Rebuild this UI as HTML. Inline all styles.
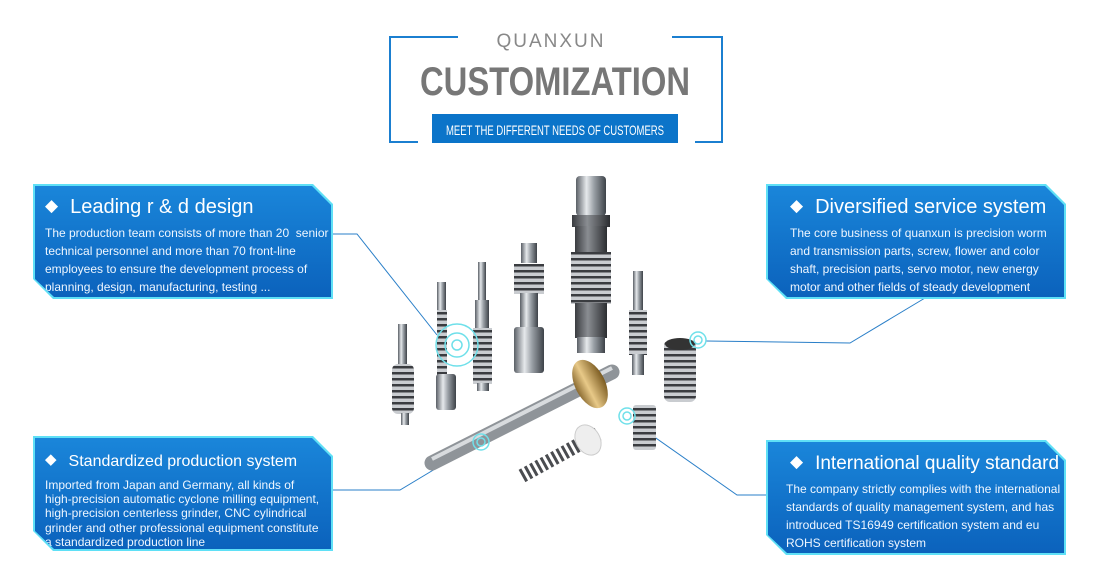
<!DOCTYPE html>
<html><head><meta charset="utf-8"><style>
body{margin:0;width:1100px;height:567px;background:#fff;position:relative;overflow:hidden;font-family:"Liberation Sans",sans-serif}
.box{position:absolute;width:300px;height:115px;background:#5fe0f6;clip-path:polygon(0 0,280px 0,300px 20px,300px 100%,20px 100%,0 95px)}
.box .in{position:absolute;left:2px;top:2px;right:2px;bottom:2px;background:linear-gradient(180deg,#1a86da,#0b62bc);clip-path:polygon(0 0,277px 0,296px 19px,296px 100%,19px 100%,0 93px);color:#fff}
.box h3{margin:0;font-weight:normal;font-size:20px;position:absolute;left:10px;top:10px;white-space:nowrap}
.box h3 span{font-size:17px;margin-right:12px;position:relative;top:-2px}
.box p{margin:0;position:absolute;left:10px;top:38px;font-size:12px;line-height:18px;white-space:nowrap;color:#eef6ff}
</style></head><body>
<svg width="1100" height="567" style="position:absolute;left:0;top:0">
<defs>
<linearGradient id="m" x1="0" x2="1"><stop offset="0" stop-color="#5a5f66"/><stop offset=".35" stop-color="#e6e9ec"/><stop offset=".6" stop-color="#9aa0a6"/><stop offset="1" stop-color="#3d4248"/></linearGradient>
<linearGradient id="d" x1="0" x2="1"><stop offset="0" stop-color="#3a3c40"/><stop offset=".4" stop-color="#8a8d92"/><stop offset="1" stop-color="#2c2e31"/></linearGradient>
<linearGradient id="g" x1="0" x2="1"><stop offset="0" stop-color="#8a6a30"/><stop offset=".4" stop-color="#e8c988"/><stop offset="1" stop-color="#7a5a20"/></linearGradient>
<pattern id="th" width="6" height="6" patternUnits="userSpaceOnUse"><rect width="6" height="6" fill="#c9ccd0"/><rect width="6" height="2.5" fill="#3a3c40"/></pattern>
</defs>
<g fill="none" stroke="#1b7fd0" stroke-width="2">
<polyline points="458,37 390,37 390,142 418,142"/>
<polyline points="672,37 722,37 722,142 695,142"/>
</g>
<rect x="432" y="114" width="246" height="29" fill="#0b74c9"/>
<text x="551" y="47" font-size="19" fill="#888" text-anchor="middle" letter-spacing="2" font-family="Liberation Sans">QUANXUN</text>
<text x="555" y="95" font-size="40" font-weight="bold" fill="#777" text-anchor="middle" font-family="Liberation Sans" textLength="270" lengthAdjust="spacingAndGlyphs">CUSTOMIZATION</text>
<text x="555" y="135" font-size="14" fill="#fff" text-anchor="middle" font-family="Liberation Sans" textLength="218" lengthAdjust="spacingAndGlyphs">MEET THE DIFFERENT NEEDS OF CUSTOMERS</text>
<g fill="none" stroke="#2a7fc8" stroke-width="1">
<polyline points="332,234 357,234 437,335"/>
<polyline points="706,341 850,343 925,298"/>
<polyline points="332,490 400,490 475,445"/>
<polyline points="633,422 737,495 766,495"/>
</g>
<rect x="576" y="176" width="30" height="40" rx="4" fill="url(#m)"/>
<rect x="572" y="215" width="38" height="12" fill="url(#d)"/>
<rect x="575" y="226" width="32" height="28" fill="url(#d)"/>
<rect x="571" y="252" width="40" height="52" fill="url(#th)"/>
<rect x="575" y="303" width="32" height="35" fill="url(#d)"/>
<rect x="577" y="337" width="28" height="16" fill="url(#m)"/>
<rect x="521" y="243" width="16" height="20" fill="url(#m)"/>
<rect x="514" y="264" width="30" height="30" fill="url(#th)"/>
<rect x="520" y="293" width="18" height="35" fill="url(#m)"/>
<rect x="514" y="327" width="30" height="46" rx="3" fill="url(#m)"/>
<rect x="478" y="262" width="8" height="40" fill="url(#m)"/>
<rect x="475" y="300" width="14" height="30" fill="url(#m)"/>
<rect x="473" y="328" width="19" height="56" fill="url(#th)"/>
<rect x="477" y="383" width="12" height="8" fill="url(#m)"/>
<rect x="437" y="282" width="9" height="30" fill="url(#m)"/>
<rect x="437" y="310" width="10" height="65" fill="url(#th)"/>
<rect x="436" y="374" width="20" height="36" rx="3" fill="url(#m)"/>
<rect x="398" y="324" width="9" height="40" fill="url(#m)"/>
<rect x="392" y="364" width="22" height="50" rx="6" fill="url(#th)"/>
<rect x="401" y="413" width="8" height="12" fill="url(#m)"/>
<rect x="633" y="271" width="10" height="40" fill="url(#m)"/>
<rect x="629" y="310" width="18" height="45" fill="url(#th)"/>
<rect x="632" y="354" width="12" height="21" fill="url(#m)"/>
<rect x="664" y="340" width="32" height="62" rx="6" fill="url(#th)"/>
<ellipse cx="680" cy="344" rx="15" ry="6" fill="#333"/>
<rect x="633" y="405" width="23" height="45" rx="3" fill="url(#th)"/>
<line x1="432" y1="463" x2="612" y2="372" stroke="#8f9499" stroke-width="15" stroke-linecap="round"/>
<line x1="432" y1="459" x2="612" y2="368" stroke="#d8dbde" stroke-width="4"/>
<ellipse cx="590" cy="384" rx="15" ry="26" transform="rotate(-27 590 384)" fill="url(#g)"/>
<line x1="522" y1="476" x2="598" y2="434" stroke="#4a4c50" stroke-width="14" stroke-dasharray="3 3"/>
<ellipse cx="588" cy="440" rx="12" ry="16" transform="rotate(-30 588 440)" fill="#eee" stroke="#ccc"/>
<g fill="none" stroke="#6fe0ea" stroke-width="1.5">
<circle cx="457" cy="345" r="21"/><circle cx="457" cy="345" r="12"/><circle cx="457" cy="345" r="5"/>
<circle cx="698" cy="340" r="8"/><circle cx="698" cy="340" r="4"/>
<circle cx="627" cy="416" r="8"/><circle cx="627" cy="416" r="4"/>
<circle cx="481" cy="442" r="8"/><circle cx="481" cy="442" r="4"/>
</g>
</svg>
<div class="box" style="left:33px;top:184px"><div class="in"><h3><span>◆</span>Leading r &amp; d design</h3><p>The production team consists of more than 20&nbsp; senior<br>technical personnel and more than 70 front-line<br>employees to ensure the development process of<br>planning, design, manufacturing, testing ...</p></div></div>
<div class="box" style="left:33px;top:436px"><div class="in"><h3 style="font-size:16px;top:14px"><span style="font-size:15px">◆</span>Standardized production system</h3><p style="font-size:12px;line-height:14.2px;top:40px">Imported from Japan and Germany, all kinds of<br>high-precision automatic cyclone milling equipment,<br>high-precision centerless grinder, CNC cylindrical<br>grinder and other professional equipment constitute<br>a standardized production line</p></div></div>
<div class="box" style="left:766px;top:184px"><div class="in"><h3 style="left:22px"><span>◆</span>Diversified service system</h3><p style="left:22px">The core business of quanxun is precision worm<br>and transmission parts, screw, flower and color<br>shaft, precision parts, servo motor, new energy<br>motor and other fields of steady development</p></div></div>
<div class="box" style="left:766px;top:440px"><div class="in"><h3 style="left:22px;font-size:19px;top:11px"><span>◆</span>International quality standard</h3><p style="left:18px">The company strictly complies with the international<br>standards of quality management system, and has<br>introduced TS16949 certification system and eu<br>ROHS certification system</p></div></div>
</body></html>
